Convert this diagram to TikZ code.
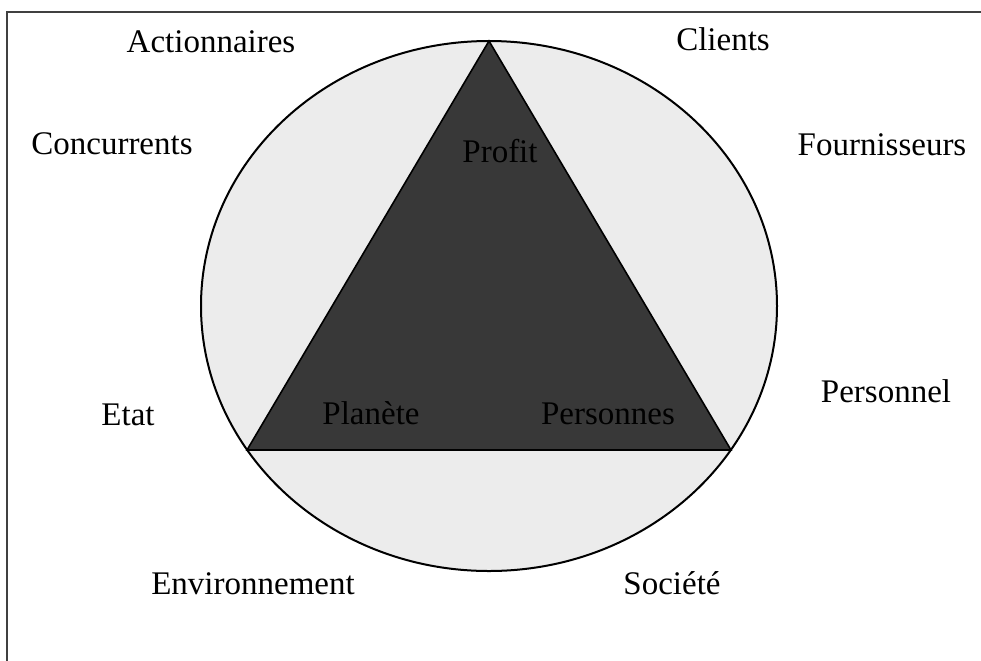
\documentclass[tikz,border=0pt]{standalone}
\usepackage{fontspec}
\setmainfont{Liberation Serif}
\definecolor{disque}{gray}{0.925}
\definecolor{triangle}{gray}{0.22}
\begin{document}
\begin{tikzpicture}[x = 0.5pt, y = -0.5pt, font = \fontsize{16.5}{20}\selectfont,
    every node/.style = {anchor = base, inner sep = 0pt}]
        \useasboundingbox (0, 0) rectangle (981, 660);
        \pgfmathsetmacro{\rx}{288};
        \pgfmathsetmacro{\ry}{265};
        % cadre (coupe a droite et en bas)
        \draw [line width = 1pt, black!75] (7, 700) -- (7, 12) -- (1000, 12);
        \draw [line width = 1pt, fill = disque] (489, 306) ellipse [x radius = \rx, y radius = \ry];
        \coordinate (sommet) at (489, 41);
        \coordinate (gauche) at (247, 450);
        \coordinate (droite) at (731, 450);
        \draw [line width = 0.8pt, fill = triangle] (sommet) -- (gauche) -- (droite) -- cycle;
        \node (profit) at (500, 162) {Profit};
        \node (planete) at (371, 424) {Planète};
        \node (personnes) at (608, 424) {Personnes};
        \node (actionnaires) at (211, 52) {Actionnaires};
        \node (clients) at (723, 50) {Clients};
        \node (concurrents) at (112, 154) {Concurrents};
        \node (fournisseurs) at (882, 155) {Fournisseurs};
        \node (etat) at (128, 425) {Etat};
        \node (personnel) at (886, 402) {Personnel};
        \node (environnement) at (253, 594) {Environnement};
        \node (societe) at (672, 594) {Société};
    \end{tikzpicture}
\end{document}
